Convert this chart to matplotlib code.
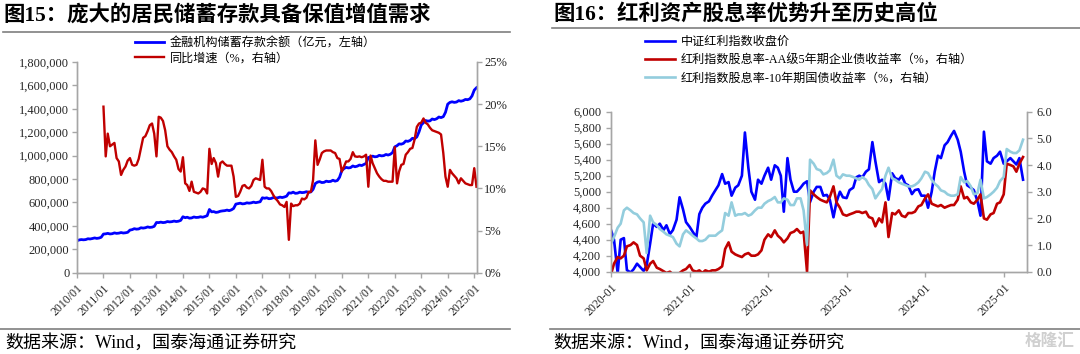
import matplotlib
matplotlib.use("Agg")
import matplotlib.pyplot as plt
import matplotlib.dates as mdates
from matplotlib.lines import Line2D
from matplotlib.ticker import FuncFormatter, MultipleLocator
import pandas as pd

plt.rcParams["font.family"] = ["Liberation Serif", "Noto Sans CJK SC"]
plt.rcParams["axes.unicode_minus"] = False

# ---------------------------------------------------------------------------
# Fig 15 data: household deposits (100m yuan, monthly 2010-01 .. 2025-02)
# ---------------------------------------------------------------------------
deposit_dates = pd.date_range("2010-01-01", "2025-02-01", freq="MS")
deposits = [
    273000, 280000, 283000, 281000, 283000, 290000, 288000, 292000, 297000, 293000, 296000, 303000,
    330000, 332000, 336000, 331000, 333000, 340000, 336000, 338000, 343000, 339000, 341000, 345000,
    364000, 368000, 376000, 372000, 374000, 384000, 381000, 384000, 391000, 387000, 389000, 396000,
    429000, 428000, 432000, 428000, 430000, 437000, 434000, 436000, 441000, 437000, 440000, 447000,
    478000, 470000, 474000, 466000, 468000, 476000, 472000, 473000, 478000, 474000, 480000, 487000,
    540000, 520000, 522000, 515000, 518000, 525000, 528000, 530000, 535000, 530000, 537000, 549000,
    586000, 590000, 594000, 588000, 590000, 597000, 594000, 597000, 603000, 598000, 602000, 606000,
    640000, 636000, 640000, 632000, 634000, 642000, 638000, 640000, 646000, 642000, 647000, 654000,
    682000, 680000, 688000, 678000, 680000, 688000, 684000, 686000, 692000, 686000, 690000, 712000,
    762000, 774000, 778000, 770000, 772000, 782000, 778000, 780000, 790000, 782000, 788000, 815000,
    872000, 890000, 900000, 895000, 898000, 912000, 905000, 910000, 920000, 915000, 925000, 934000,
    984000, 988000, 996000, 990000, 992000, 1003000, 998000, 1000000, 1010000, 1005000, 1012000, 1026000,
    1075000, 1085000, 1100000, 1098000, 1105000, 1125000, 1122000, 1130000, 1148000, 1145000, 1160000, 1203000,
    1262000, 1282000, 1300000, 1295000, 1297000, 1313000, 1308000, 1315000, 1330000, 1325000, 1333000, 1370000,
    1440000, 1455000, 1460000, 1455000, 1458000, 1470000, 1465000, 1470000, 1480000, 1478000, 1485000, 1510000,
    1560000, 1580000,
]

growth_dates = pd.date_range("2011-01-01", "2025-02-01", freq="MS")
growth = [
    19.7, 13.8, 16.5, 15.0, 15.2, 15.4, 13.6, 13.2, 11.6, 12.2, 12.6, 13.3,
    13.6, 12.8, 12.7, 12.8, 13.5, 14.8, 16.0, 16.2, 16.8, 17.5, 17.7, 16.5,
    13.8, 18.5, 18.4, 18.0, 16.9, 15.0, 14.6, 14.3, 13.8, 13.4, 12.3, 12.0,
    13.7, 10.6, 10.4, 9.7, 10.8, 9.6, 9.5, 9.4, 9.6, 10.0, 9.9, 9.4,
    14.7, 12.9, 13.6, 13.0, 11.4, 13.0, 13.2, 12.9, 12.7, 12.7, 12.7, 11.4,
    9.0, 9.1, 9.6, 10.3, 10.4, 10.1, 10.0, 10.3, 11.0, 11.2, 11.1, 11.0,
    13.4, 10.2, 10.0, 10.0, 9.7, 9.2, 8.8, 8.5, 8.1, 8.0, 7.8, 8.4,
    3.9, 8.2, 7.9, 8.0, 8.0, 8.2, 8.8, 8.7, 8.9, 9.6, 9.6, 11.0,
    15.7, 12.8, 13.4, 14.2, 14.4, 14.5, 14.5, 14.5, 14.3, 14.2, 13.6, 13.5,
    12.0, 12.6, 13.2, 13.2, 13.5, 14.3, 13.8, 13.75, 13.8, 13.7, 13.8, 14.0,
    10.2, 13.9, 13.0, 12.4, 11.8, 11.4, 11.1, 10.9, 10.9, 10.8, 10.8, 10.8,
    14.9, 10.6, 12.0, 12.8, 12.9, 14.0, 14.3, 14.7, 14.8, 15.8, 17.3, 17.7,
    17.8, 18.3, 17.8, 17.6, 17.2, 16.9, 16.8, 16.7, 16.6, 16.4, 14.2, 11.4,
    10.2, 12.2, 11.8, 11.5, 11.2, 10.6, 11.2, 10.9, 10.6, 10.5, 10.4, 10.4,
    12.4, 10.2,
]

# ---------------------------------------------------------------------------
# Fig 16 data: semi-monthly samples 2020-01-01 .. 2025-04-01
# ---------------------------------------------------------------------------
div_dates = pd.date_range("2020-01-01", periods=127, freq="SMS")
csi_close = [
    4520, 4400, 3980, 4400, 4420, 4020, 3990, 4030, 4100, 4060, 4010, 4080,
    4350, 4600, 4560, 4600, 4520, 4580, 4470, 4520, 4650, 4930, 4780, 4620,
    4560, 4500, 4430, 4720, 4800, 4850, 4880, 4950, 5020, 5080, 5220, 5100,
    5120, 4950, 5050, 5080, 5200, 5740, 5300, 5000, 4900, 5150, 5100, 5200,
    5300, 5150, 5330, 5300, 5200, 4750, 5420, 5150, 5000, 5000, 5050, 5100,
    5130, 4870, 5000, 5060, 5060, 4950, 4960, 4900, 4680, 4870, 5000, 4930,
    4920, 5020, 5050, 5180, 5200, 5180, 5250, 5280, 5620, 5380, 5120, 5150,
    5100, 4900, 5230, 5170, 5150, 5200, 5100, 5080, 4970, 5020, 5030, 4950,
    4950, 4800, 5000, 5250, 5450, 5420, 5580, 5620, 5700, 5760, 5650, 5500,
    5250, 5080, 5050, 5020, 4880, 4700, 5750, 5380, 5350, 5420, 5450, 5500,
    5350, 5380, 5420, 5380, 5340, 5420, 5150,
]
spread_corp = [
    -0.1, 0.3, 0.55, 0.5, 0.6, 0.95, 1.0, 1.1, 1.0, 0.6, 0.5, 0.05,
    0.3, 0.4, 0.15, 0.1, 0.02, -0.05, 0.0, -0.1, -0.1, -0.05, 0.05, 0.1,
    0.25, 0.05, 0.0, 0.05, -0.05, 0.05, 0.0, 0.05, 0.05, 0.1, 0.2, 0.85,
    1.1, 0.75, 0.65, 0.6, 0.55, 0.65, 0.7, 0.6, 0.6, 0.65, 0.8, 1.2,
    1.4, 1.3, 1.55, 1.35, 1.25, 1.1, 1.25, 1.45, 1.5, 1.6, 1.45, 1.5,
    0.0, 3.05, 2.9, 2.8, 2.7, 2.65, 2.6, 2.8, 3.2, 2.6, 2.4, 2.15,
    2.1, 2.15, 2.2, 2.25, 2.25, 2.2, 2.25, 2.05, 2.0, 1.7, 2.0, 1.85,
    2.6, 1.3, 2.2, 2.15, 2.3, 2.1, 2.05, 2.2, 2.2, 2.25, 2.45, 2.5,
    2.75, 2.9, 2.55, 2.5, 2.45, 2.5, 2.4, 2.45, 2.5, 2.5, 2.7, 3.2,
    2.75, 2.8, 2.6, 2.55, 2.7, 2.9, 2.0, 1.95, 2.15, 2.2, 2.55, 2.6,
    2.9, 4.05, 4.0, 3.95, 3.75, 4.05, 4.3,
]
spread_gov = [
    1.05, 1.3, 1.65, 1.8, 2.3, 2.4, 2.3, 2.2, 2.15, 2.0, 1.85, 0.7,
    2.1, 1.85, 1.75, 1.6, 1.5, 1.4, 1.35, 1.3, 1.05, 0.95, 1.4, 1.55,
    1.45, 1.35, 1.25, 1.15, 1.15, 1.2, 1.35, 1.35, 1.35, 1.45, 1.55, 2.2,
    2.1, 2.6, 2.1, 2.15, 2.15, 2.2, 2.1, 2.15, 2.3, 2.4, 2.4, 2.55,
    2.65, 2.7, 2.8, 2.6, 2.6, 2.75, 2.7, 2.5, 2.5, 2.75, 2.75, 2.3,
    1.0, 4.2, 4.05, 3.85, 3.8, 3.65, 3.7, 3.8, 4.2, 3.6, 3.5, 3.65,
    3.6, 3.6, 3.55, 3.5, 3.45, 3.55, 3.45, 3.25, 3.1, 2.75, 2.95, 3.1,
    3.6, 3.9, 3.5, 3.45, 3.35, 3.3, 3.25, 3.2, 3.2, 3.25, 3.35, 3.5,
    3.75, 3.7, 3.45, 3.3, 3.2, 3.05, 3.0, 2.9, 2.85, 2.85, 2.9, 3.55,
    3.35, 3.4, 3.2, 2.9, 2.95, 3.45, 2.75, 2.8, 2.9, 3.0, 3.15, 3.4,
    3.55, 4.6, 4.5, 4.45, 4.45, 4.55, 4.95,
]

BLUE = "#0000FF"
RED = "#C00000"
LIGHT_BLUE = "#93CDDD"
SPINE = "#A6A6A6"
TEXT = "#262626"
W, H = 1080, 354


def px_box(left, top, right, bottom):
    return [left / W, 1 - bottom / H, (right - left) / W, (bottom - top) / H]


def style_axis(ax):
    ax.spines["top"].set_visible(False)
    for side in ["left", "right", "bottom"]:
        ax.spines[side].set_color(SPINE)
        ax.spines[side].set_linewidth(1.0)
    ax.tick_params(axis="both", colors=SPINE, labelcolor=TEXT, labelsize=9,
                   direction="out", length=3.5, width=1.0)


def rotate_xlabels(ax):
    for lab in ax.get_xticklabels():
        lab.set_rotation(45)
        lab.set_ha("right")
        lab.set_va("top")
        lab.set_rotation_mode("anchor")
        lab.set_fontsize(8.5)


fig = plt.figure(figsize=(W / 100, H / 100), dpi=100)

# ---------------------------------------------------------------------------
# Left panel
# ---------------------------------------------------------------------------
ax1 = fig.add_axes(px_box(77, 62, 476.5, 272.7))
ax1b = ax1.twinx()
l1, = ax1.plot(deposit_dates, deposits, color=BLUE, lw=2.0)
l2, = ax1b.plot(growth_dates, growth, color=RED, lw=1.7)
ax1.set_ylim(0, 1800000)
ax1.yaxis.set_major_locator(MultipleLocator(200000))
ax1.yaxis.set_major_formatter(FuncFormatter(lambda v, _: f"{v:,.0f}"))
ax1b.set_ylim(0, 25)
ax1b.yaxis.set_major_locator(MultipleLocator(5))
ax1b.yaxis.set_major_formatter(FuncFormatter(lambda v, _: f"{v:.0f}%"))
ax1.set_xlim(pd.Timestamp("2010-01-01"), pd.Timestamp("2025-02-01"))
ax1.xaxis.set_major_locator(mdates.YearLocator(1, month=1, day=1))
ax1.xaxis.set_major_formatter(mdates.DateFormatter("%Y/%m"))
for a in (ax1, ax1b):
    style_axis(a)
ax1.tick_params(axis="y", pad=2)
ax1b.tick_params(axis="y", pad=2)
rotate_xlabels(ax1)
ax1b.legend([l1, l2], ["金融机构储蓄存款余额（亿元，左轴）", "同比增速（%，右轴）"],
            loc="upper left", bbox_to_anchor=(135 / W, 1 - 37 / H),
            bbox_transform=fig.transFigure, frameon=False, borderpad=0,
            borderaxespad=0, handlelength=2.4, handletextpad=0.45,
            labelspacing=0.3, fontsize=8.7)

# ---------------------------------------------------------------------------
# Right panel
# ---------------------------------------------------------------------------
ax2 = fig.add_axes(px_box(611, 111.7, 1026.7, 271.7))
ax2b = ax2.twinx()
r1, = ax2.plot(div_dates, csi_close, color=BLUE, lw=1.9)
r2, = ax2b.plot(div_dates, spread_corp, color=RED, lw=1.9)
r3, = ax2b.plot(div_dates, spread_gov, color=LIGHT_BLUE, lw=1.9)
ax2.set_ylim(4000, 6000)
ax2.yaxis.set_major_locator(MultipleLocator(200))
ax2.yaxis.set_major_formatter(FuncFormatter(lambda v, _: f"{v:,.0f}"))
ax2b.set_ylim(0, 6)
ax2b.yaxis.set_major_locator(MultipleLocator(1))
ax2b.yaxis.set_major_formatter(FuncFormatter(lambda v, _: f"{v:.1f}"))
ax2.set_xlim(pd.Timestamp("2020-01-01"), pd.Timestamp("2025-04-18"))
ax2.xaxis.set_major_locator(mdates.YearLocator(1, month=1, day=1))
ax2.xaxis.set_major_formatter(mdates.DateFormatter("%Y-%m"))
for a in (ax2, ax2b):
    style_axis(a)
rotate_xlabels(ax2)
ax2b.legend([r1, r2, r3],
            ["中证红利指数收盘价",
             "红利指数股息率-AA级5年期企业债收益率（%，右轴）",
             "红利指数股息率-10年期国债收益率（%，右轴）"],
            loc="upper left", bbox_to_anchor=(645 / W, 1 - 36 / H),
            bbox_transform=fig.transFigure, frameon=False, borderpad=0,
            borderaxespad=0, handlelength=2.5, handletextpad=0.45,
            labelspacing=0.5, fontsize=8.7)

# ---------------------------------------------------------------------------
# Titles, rules and source notes
# ---------------------------------------------------------------------------
fig.text(3 / W, 1 - 15 / H, "图15：庞大的居民储蓄存款具备保值增值需求",
         fontsize=15.4, fontweight="bold", va="center", ha="left", color="black")
fig.text(553 / W, 1 - 14 / H, "图16：红利资产股息率优势升至历史高位",
         fontsize=15.4, fontweight="bold", va="center", ha="left", color="black")
for x0, x1, y in [(3, 510, 32.3), (552, 1080, 28.3), (0, 510, 329), (550, 1080, 329)]:
    fig.add_artist(Line2D([x0 / W, x1 / W], [1 - y / H, 1 - y / H],
                          transform=fig.transFigure, color="#7F7F7F", lw=1.2))
fig.text(5 / W, 1 - 343 / H, "数据来源：Wind，国泰海通证券研究",
         fontsize=13, va="center", ha="left", color="black")
fig.text(553 / W, 1 - 343 / H, "数据来源：Wind，国泰海通证券研究",
         fontsize=13, va="center", ha="left", color="black")
fig.text(1075 / W, 1 - 342 / H, "格隆汇", fontsize=12, va="center", ha="right",
         color="#D0D0D0", fontweight="bold")

fig.savefig("out.png", dpi=100)
